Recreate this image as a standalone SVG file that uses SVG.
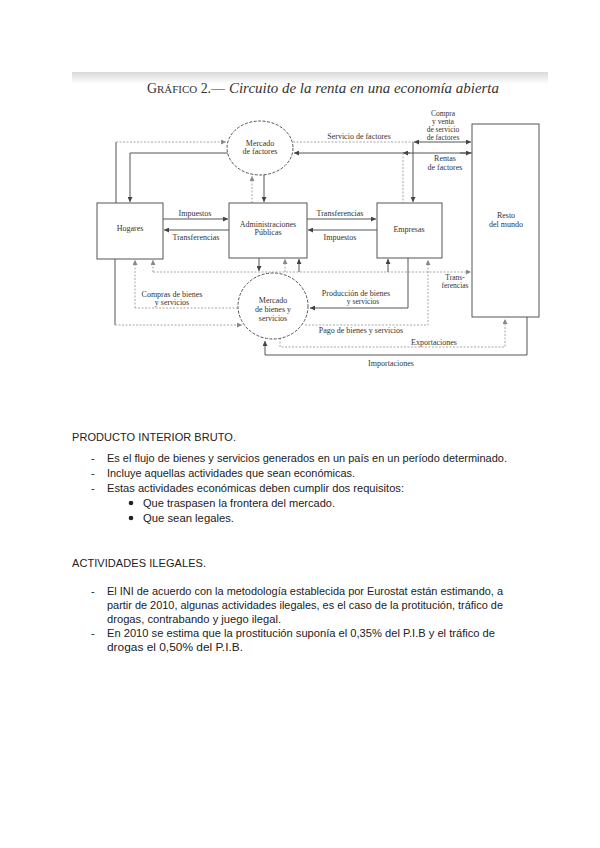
<svg xmlns="http://www.w3.org/2000/svg" width="600" height="848" viewBox="0 0 600 848">
<defs>
<linearGradient id="scanTop" x1="0" y1="0" x2="0" y2="1">
<stop offset="0" stop-color="#d9d9d9"/>
<stop offset="1" stop-color="#ffffff"/>
</linearGradient>
<marker id="ah" viewBox="0 0 6 6" refX="6" refY="3" markerWidth="5" markerHeight="5" markerUnits="userSpaceOnUse" orient="auto-start-reverse">
<path d="M0,0 L6,3 L0,6 z" fill="#444"/>
</marker>
<marker id="ahl" viewBox="0 0 6 6" refX="6" refY="3" markerWidth="5" markerHeight="5" markerUnits="userSpaceOnUse" orient="auto-start-reverse">
<path d="M0,0 L6,3 L0,6 z" fill="#888"/>
</marker>
</defs>
<style>
.box{fill:#fff;stroke:#555;stroke-width:1}
.circ{fill:#fff;stroke:#555;stroke-width:1;stroke-dasharray:3 1.5}
.lbl{font-family:"Liberation Serif","DejaVu Serif",serif;font-size:8px;fill:#333;text-anchor:middle}
.sm{font-size:7.5px}
.dk{fill:none;stroke:#555;stroke-width:1}
.lt{fill:none;stroke:#a8a8a8;stroke-width:1;stroke-dasharray:2 1.5}
.body{font-family:"Liberation Sans",Arial,sans-serif;font-size:11px;fill:#222}
</style>
<rect x="0" y="0" width="600" height="848" fill="#fff"/>
<rect x="72" y="72" width="476" height="12" fill="url(#scanTop)"/>
<text x="147" y="93" font-family="Liberation Serif,serif" font-size="14" fill="#333" textLength="78" lengthAdjust="spacingAndGlyphs">G<tspan font-size="11">RÁFICO</tspan> 2.—</text>
<text x="229" y="93" font-family="Liberation Serif,serif" font-size="14" font-style="italic" fill="#333" textLength="270" lengthAdjust="spacingAndGlyphs">Circuito de la renta en una economía abierta</text>

<g id="connectors">
<path class="dk" d="M116,203 V142"/>
<path class="lt" d="M116,142 H226" marker-end="url(#ahl)"/>
<path class="dk" d="M228,153 H130 V202" marker-end="url(#ah)"/>
<path class="lt" d="M252,203 V176" marker-end="url(#ahl)"/>
<path class="dk" d="M264,175 V202" marker-end="url(#ah)"/>
<path class="lt" d="M293,142 H413"/>
<path class="dk" d="M413,142 V202" marker-end="url(#ah)"/>
<path class="dk" d="M414,142 H471" marker-start="url(#ah)" marker-end="url(#ah)"/>
<path class="dk" d="M472,153 H294" marker-end="url(#ah)"/>
<path class="dk" d="M410,153 H403" marker-end="url(#ah)"/>
<path class="dk" d="M460,153 H471" marker-end="url(#ah)"/>
<path class="lt" d="M403,153 V203"/>
<path class="dk" d="M163,219 H228" marker-end="url(#ah)"/>
<path class="dk" d="M229,230 H164" marker-end="url(#ah)"/>
<path class="dk" d="M307,219 H376" marker-end="url(#ah)"/>
<path class="dk" d="M377,230 H308" marker-end="url(#ah)"/>
<path class="lt" d="M153,272 H471" marker-end="url(#ahl)"/>
<path class="lt" d="M153,272 V260" marker-end="url(#ahl)"/>
<path class="lt" d="M285,272 V259" marker-end="url(#ahl)"/>
<path class="dk" d="M299,272 V259" marker-end="url(#ah)"/>
<path class="dk" d="M388,272 V259" marker-end="url(#ah)"/>
<path class="dk" d="M259,258 V271" marker-end="url(#ah)"/>
<path class="dk" d="M115,259 V325"/>
<path class="lt" d="M115,325 H242" marker-end="url(#ahl)"/>
<path class="lt" d="M238,308 H135"/>
<path class="lt" d="M135,308 V260" marker-end="url(#ahl)"/>
<path class="dk" d="M408,258 V308 H310" marker-end="url(#ah)"/>
<path class="lt" d="M305,325 H428 V260" marker-end="url(#ahl)"/>
<path class="lt" d="M280,338 V347 H505 V319" marker-end="url(#ahl)"/>
<path class="dk" d="M527,317 V355 H265 V341" marker-end="url(#ah)"/>
</g>

<g id="connector-labels">
<text class="lbl" x="359" y="139">Servicio de factores</text>
<text class="lbl sm" x="443" y="116">Compra</text>
<text class="lbl sm" x="443" y="124">y venta</text>
<text class="lbl sm" x="443" y="132">de servicio</text>
<text class="lbl sm" x="443" y="140">de factores</text>
<text class="lbl" x="445" y="161">Rentas</text>
<text class="lbl" x="445" y="170">de factores</text>
<text class="lbl" x="195" y="216">Impuestos</text>
<text class="lbl" x="196" y="240">Transferencias</text>
<text class="lbl" x="340" y="216">Transferencias</text>
<text class="lbl" x="340" y="240">Impuestos</text>
<text class="lbl sm" x="455" y="280">Trans-</text>
<text class="lbl sm" x="455" y="288">ferencias</text>
<text class="lbl" x="172" y="297">Compras de bienes</text>
<text class="lbl" x="172" y="305">y servicios</text>
<text class="lbl" x="356" y="296">Producción de bienes</text>
<text class="lbl sm" x="363" y="304">y servicios</text>
<text class="lbl" x="361" y="333">Pago de bienes y servicios</text>
<text class="lbl" x="434" y="345">Exportaciones</text>
<text class="lbl" x="391" y="366">Importaciones</text>
</g>

<g id="mercado-factores">
<ellipse class="circ" cx="260" cy="148" rx="33" ry="27"/>
<text class="lbl" x="260" y="146">Mercado</text>
<text class="lbl" x="260" y="154">de factores</text>
</g>
<g id="hogares">
<rect class="box" x="97" y="203" width="66" height="56"/>
<text class="lbl" x="130" y="231">Hogares</text>
</g>
<g id="administraciones">
<rect class="box" x="229" y="203" width="78" height="55"/>
<text class="lbl" x="268" y="227">Administraciones</text>
<text class="lbl" x="268" y="235">Públicas</text>
</g>
<g id="empresas">
<rect class="box" x="377" y="203" width="65" height="55"/>
<text class="lbl" x="409" y="232">Empresas</text>
</g>
<g id="resto">
<rect class="box" x="472" y="124" width="67" height="193"/>
<text class="lbl" x="506" y="218">Resto</text>
<text class="lbl" x="506" y="227">del mundo</text>
</g>
<g id="mercado-bienes">
<ellipse class="circ" cx="273" cy="306" rx="35" ry="33"/>
<text class="lbl" x="273" y="303">Mercado</text>
<text class="lbl" x="273" y="312">de bienes y</text>
<text class="lbl" x="273" y="321">servicios</text>
</g>

<g id="texto">
<text class="body" x="72" y="441" textLength="164" lengthAdjust="spacing">PRODUCTO INTERIOR BRUTO.</text>
<text class="body" x="91" y="462">-</text>
<text class="body" x="107" y="462" textLength="400" lengthAdjust="spacingAndGlyphs">Es el flujo de bienes y servicios generados en un país en un período determinado.</text>
<text class="body" x="91" y="477">-</text>
<text class="body" x="107" y="477" textLength="248" lengthAdjust="spacingAndGlyphs">Incluye aquellas actividades que sean económicas.</text>
<text class="body" x="91" y="492">-</text>
<text class="body" x="107" y="492" textLength="297" lengthAdjust="spacingAndGlyphs">Estas actividades económicas deben cumplir dos requisitos:</text>
<circle cx="131" cy="503" r="2.3" fill="#222"/>
<text class="body" x="143" y="507" textLength="192" lengthAdjust="spacingAndGlyphs">Que traspasen la frontera del mercado.</text>
<circle cx="131" cy="518" r="2.3" fill="#222"/>
<text class="body" x="143" y="522" textLength="91" lengthAdjust="spacingAndGlyphs">Que sean legales.</text>

<text class="body" x="72" y="567" textLength="134" lengthAdjust="spacing">ACTIVIDADES ILEGALES.</text>
<text class="body" x="91" y="595">-</text>
<text class="body" x="107" y="595" textLength="396" lengthAdjust="spacingAndGlyphs">El INI de acuerdo con la metodología establecida por Eurostat están estimando, a</text>
<text class="body" x="107" y="609" textLength="396" lengthAdjust="spacingAndGlyphs">partir de 2010, algunas actividades ilegales, es el caso de la protitución, tráfico de</text>
<text class="body" x="107" y="623" textLength="174" lengthAdjust="spacingAndGlyphs">drogas, contrabando y juego ilegal.</text>
<text class="body" x="91" y="637">-</text>
<text class="body" x="107" y="637" textLength="388" lengthAdjust="spacingAndGlyphs">En 2010 se estima que la prostitución suponía el 0,35% del P.I.B y el tráfico de</text>
<text class="body" x="107" y="651" textLength="136" lengthAdjust="spacingAndGlyphs">drogas el 0,50% del P.I.B.</text>
</g>
</svg>
